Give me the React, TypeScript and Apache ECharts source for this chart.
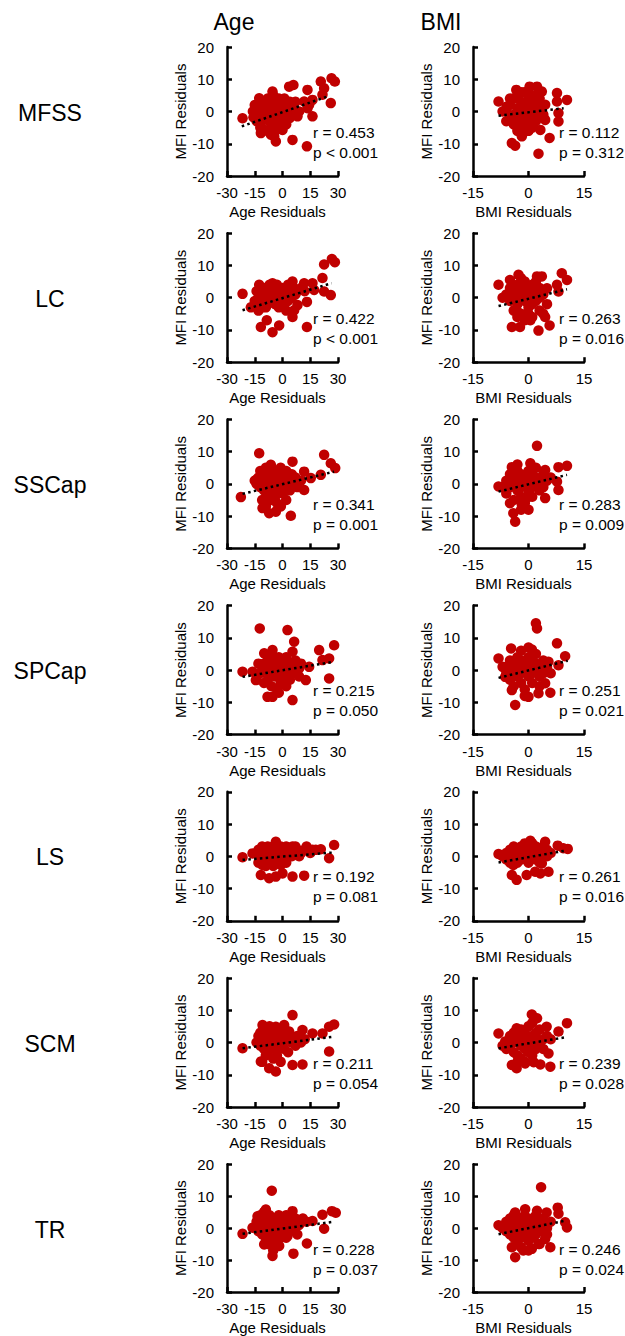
import React, { useEffect, useRef } from "react";
import * as echarts from "echarts";

const FONT = "'Liberation Sans', Arial, Helvetica, sans-serif";
const DOT = "#C00000";

const rowLabels = ["MFSS", "LC", "SSCap", "SPCap", "LS", "SCM", "TR"];
const colTitles = ["Age", "BMI"];
const xNames = ["Age Residuals", "BMI Residuals"];
const yName = "MFI Residuals";
const xRanges = [[-30, 30, 15], [-15, 15, 15]];
const yRange = [-20, 20, 10];

const ageR = ["0.453", "0.422", "0.341", "0.215", "0.192", "0.211", "0.228"];
const ageP = ["< 0.001", "< 0.001", "= 0.001", "= 0.050", "= 0.081", "= 0.054", "= 0.037"];
const bmiR = ["0.112", "0.263", "0.283", "0.251", "0.261", "0.239", "0.246"];
const bmiP = ["= 0.312", "= 0.016", "= 0.009", "= 0.021", "= 0.016", "= 0.028", "= 0.024"];

const ageMFSS = [
  [-21.6, -2.1], [-15.7, -1.8], [-12.6, 4.1], [-5.4, 6.2], [3.6, 7.7], [5.9, 8.2], [13.5, 6.7], [20.7, 9.3], [26.5, 10.3], [28.3, 9.3],
  [22.5, 7.2], [21.6, 5.2], [26.1, 2.6], [16.2, 3.6], [14.4, 2.1], [11.7, 3.1], [13.5, 1.0], [16.2, -1.5], [8.1, -1.5], [5.4, -8.8],
  [13.2, -10.8], [0, -5.7], [-3.6, -9.3], [-4.5, -7.7], [-9.9, -5.7], [-11.7, -6.7], [-6.3, -7.2],
  [-13, 1], [-12, -1], [-11, 2], [-10, 0], [-10, 3], [-9, -2], [-9, 1], [-8, 4], [-8, -1], [-7, 2], [-7, -3], [-6, 0], [-6, 3],
  [-5, -2], [-5, 5], [-4, 1], [-4, -4], [-3, 3], [-3, -1], [-2, 0], [-2, 4], [-1, -3], [-1, 2], [0, 1], [0, -2], [1, 4], [1, -1],
  [2, 2], [2, -4], [3, 0], [4, 3], [4, -2], [5, 1], [6, -1], [7, 3], [-14, -3], [-12, -5], [-8, -6], [-6, -4], [-4, -6], [-11, -3],
  [9, 0], [-16, 0], [-15, 2],
];
const ageLC = [
  [-21.6, 1.2], [-17.1, -3.0], [-11.7, -9.1], [-8.5, -7.0], [-5.4, -10.7], [-1.8, -8.6], [5.4, -6.0], [6.3, -3.9], [8.1, -2.3], [13.2, -1.3],
  [13.2, -9.1], [16.2, 4.5], [11.7, 4.5], [21.6, 6.1], [22.5, 10.3], [26.7, 12.0], [28.3, 11.0], [26.1, 0.8], [22.5, 1.9], [17.1, 2.4],
  [-12.6, 4.0], [-5.4, 4.5], [5.4, 5.0],
  [-15, -1], [-14, 2], [-13, 0], [-12, 3], [-12, -2], [-11, 1], [-10, -1], [-10, 3], [-9, 0], [-9, -3], [-8, 2], [-8, -2], [-7, 1],
  [-7, 4], [-6, -1], [-6, 2], [-5, 0], [-5, 3], [-4, -2], [-4, 1], [-3, 4], [-3, 0], [-2, 2], [-2, -3], [-1, 1], [-1, -1], [0, 3],
  [0, 0], [1, -2], [1, 2], [2, 1], [3, 4], [3, -1], [4, 2], [5, 0], [6, 3], [7, 1], [8, 2], [-13, -4], [-11, -3], [2, -4], [10, 3], [12, 2],
];
const ageSSCap = [
  [-22.5, -4.1], [-12.6, 9.5], [-6.3, 5.9], [5.4, 6.9], [22.5, 9.0], [26.1, 6.4], [28.5, 4.9], [20.7, 2.8], [15.3, 1.8], [11.7, 3.8],
  [11.7, -1.9], [4.5, -9.9], [-10.8, -7.5], [-7.2, -9.1], [-3.6, -8.6], [-0.9, -7.0], [-14.4, 1.2],
  [-14, 0], [-13, 2], [-12, -1], [-12, 4], [-11, 1], [-10, -2], [-10, 3], [-9, 0], [-9, 5], [-8, -3], [-8, 2], [-7, -1], [-7, 4],
  [-6, 0], [-6, -5], [-5, 2], [-5, -2], [-4, 4], [-4, -4], [-3, 1], [-3, -6], [-2, 3], [-2, -2], [-1, 0], [-1, 5], [0, 2], [0, -3],
  [1, -1], [2, 4], [2, -5], [3, 1], [4, -2], [5, 3], [6, 0], [7, 2], [8, -1], [-11, -5], [-9, -7], [10, 1], [-15, 1],
];
const ageSPCap = [
  [-21.6, -0.5], [-16.2, -0.5], [-12.3, 12.9], [2.7, 12.4], [-9.9, 5.2], [-5.4, 6.2], [5.4, 5.7], [6.3, 8.8], [19.8, 6.2], [27.9, 7.7],
  [21.6, 3.1], [25.2, 3.6], [25.2, -2.6], [12.6, -3.1], [5.4, -9.3], [-8.1, -8.3], [-5.4, -8.3], [-14.4, -3.1], [9.0, 0.5], [14.4, 1.0],
  [-13, 2], [-12, -1], [-11, 1], [-10, -4], [-10, 2], [-9, 0], [-8, 3], [-8, -3], [-7, -1], [-7, 1], [-6, 4], [-6, -5], [-5, 0],
  [-5, 2], [-4, -2], [-4, 3], [-3, -6], [-3, 1], [-2, -1], [-2, 4], [-1, 2], [-1, -4], [0, 0], [0, 3], [1, -2], [1, 1], [2, -5],
  [2, 4], [3, 0], [4, 2], [4, -3], [5, 1], [6, -1], [7, 3], [8, 0], [9, -2], [10, 2], [-2, -7], [-14, -3],
];
const ageLS = [
  [-21.6, -0.3], [-16.2, 0.9], [-3.6, 4.5], [27.9, 3.5], [20.7, 2.2], [25.2, -0.6], [16.2, 2.0], [5.4, 3.0], [-11.7, -5.8], [-7.2, -6.8],
  [-3.6, -6.3], [0, -5.3], [5.4, -6.3], [11.7, -6.0], [-10.8, -2.7], [-0.9, -2.7],
  [-14, 1], [-13, 2], [-12, 0], [-11, 3], [-10, 1], [-10, -1], [-9, 2], [-8, 0], [-8, 3], [-7, 1], [-6, 2], [-6, -1], [-5, 3],
  [-5, 0], [-4, 1], [-3, 2], [-3, -2], [-2, 0], [-1, 3], [-1, 1], [0, 2], [0, -1], [1, 0], [2, 3], [3, 1], [4, 2], [5, 0], [6, 1],
  [7, 3], [8, 2], [9, 0], [10, 1], [12, 2], [13, 3], [15, 1], [18, 2], [-13, -2], [-9, -3], [2, -2], [-5, -3],
];
const ageSCM = [
  [-21.6, -1.8], [5.4, 8.5], [27.9, 5.6], [25.2, 4.9], [21.6, 2.8], [25.2, -2.8], [16.2, 2.8], [10.8, 3.9], [3.6, 3.4], [-11.7, -5.9],
  [-7.2, -8.0], [-3.6, -9.0], [5.4, -7.0], [10.8, -6.8], [-10.8, 5.4], [-3.6, 4.9], [0.9, 5.4],
  [-14, 0], [-13, 2], [-12, -1], [-12, 3], [-11, 1], [-10, -2], [-10, 4], [-9, 0], [-9, -4], [-8, 2], [-8, -3], [-7, 1], [-7, 5],
  [-6, -1], [-6, 3], [-5, -5], [-5, 0], [-4, 2], [-4, -2], [-3, 4], [-3, -4], [-2, 1], [-2, -1], [-1, 3], [-1, -6], [0, 0], [0, 2],
  [1, -2], [2, 1], [3, -3], [4, 2], [5, 0], [6, 1], [7, -1], [8, 2], [10, 0], [12, 1], [-11, -6],
];
const ageTR = [
  [-21.6, -1.8], [-5.8, 11.7], [-9.9, -5.1], [-5.4, -8.7], [5.9, -8.0], [13.2, -4.8], [26.7, 5.3], [28.8, 4.8], [21.6, 4.2], [22.5, -0.2],
  [16.2, 2.2], [5.4, 5.3], [-9.0, 5.8], [-13.5, 3.7], [-16.2, 0.1], [-1.8, -5.6], [2.7, -2.5],
  [-14, 2], [-13, -1], [-12, 1], [-12, 4], [-11, -2], [-11, 2], [-10, 0], [-10, 5], [-9, -3], [-9, 3], [-8, 1], [-8, -5], [-7, -1],
  [-7, 4], [-6, 2], [-6, -4], [-5, 0], [-5, -7], [-4, 3], [-4, -2], [-3, 1], [-3, -5], [-2, 4], [-2, -1], [-1, 2], [-1, -3], [0, 0],
  [0, 3], [1, -1], [2, 4], [2, -3], [3, 1], [4, -1], [5, 2], [6, 0], [7, 3], [8, -2], [9, 1], [11, 3], [13, 2],
];

const bmiMFSS = [
  [-8.1, 3.1], [-3.3, 6.7], [0.3, 7.7], [2.3, 7.7], [3.6, 6.2], [7.7, 5.7], [10.4, 3.6], [7.7, 3.1], [8.1, -0.5], [8.1, -3.1],
  [4.5, 2.1], [4.5, -2.6], [3.2, -5.7], [5.7, -8.2], [2.7, -13.1], [-4.5, -9.8], [-3.6, -10.6], [-1.8, -7.7], [0, -5.7], [-5.9, 1.5],
  [-6, 0], [-5, -2], [-5, 2], [-4, 4], [-4, -1], [-4, -4], [-3, 1], [-3, -3], [-3, 5], [-2, 3], [-2, -1], [-2, -5], [-1, 0],
  [-1, 2], [-1, -3], [0, 4], [0, 1], [0, -2], [0, -4], [1, 2], [1, -1], [1, 5], [2, 0], [2, 3], [2, -3], [3, 1], [3, -1], [-1, 6],
  [-7, 0], [-6, -3], [-3, -6], [1, -5], [2, 5], [3, 4], [-5, 4], [-2, 6], [4, -1], [0, -6],
];
const bmiLC = [
  [-8.1, 4.0], [-5.0, 5.5], [-2.7, 7.1], [2.3, 6.6], [3.6, 6.6], [9.0, 7.6], [10.4, 5.5], [7.7, 4.0], [8.1, 1.9], [5.0, 2.9],
  [-4.5, -9.1], [-2.3, -9.1], [0.5, -7.0], [2.7, -10.2], [4.5, -6.0], [5.7, -8.6], [-3.2, -3.9],
  [-6, 1], [-5, -1], [-5, 3], [-4, 0], [-4, 2], [-4, -4], [-3, 1], [-3, -2], [-3, 4], [-2, 0], [-2, 3], [-2, -5], [-1, -1], [-1, 2],
  [-1, 5], [0, 0], [0, 3], [0, -3], [0, -5], [1, 1], [1, -2], [1, 4], [2, 2], [2, -1], [2, 5], [3, 0], [3, 3], [3, -4], [4, 1],
  [-7, 0], [-1, -7], [1, -6], [-3, -6], [5, -2], [4, -5], [-2, 6],
];
const bmiSSCap = [
  [-8.1, -0.8], [2.3, 11.8], [-4.5, 5.2], [0.5, 6.4], [4.5, 4.3], [8.1, 5.2], [10.4, 5.6], [8.1, -1.9], [7.7, 0.7], [4.5, -4.4],
  [-4.1, -9.1], [-3.6, -11.7], [-1.8, -6.5], [-0.5, -4.4],
  [-7, -1], [-6, 1], [-6, -3], [-5, 3], [-5, -1], [-4, 0], [-4, 2], [-4, -5], [-3, 4], [-3, -2], [-3, 1], [-2, -1], [-2, 3], [-2, -4],
  [-1, 0], [-1, 2], [-1, -6], [0, 1], [0, 4], [0, -2], [1, -1], [1, 3], [1, -4], [2, 0], [2, 2], [2, 5], [3, -2], [3, 1], [4, 3],
  [4, -1], [5, 1], [-5, -6], [-2, -8], [0, -8], [6, 2], [-3, 6],
];
const bmiSPCap = [
  [-8.1, 3.6], [2.0, 14.5], [2.3, 12.9], [-4.7, 6.7], [0.9, 6.4], [7.7, 8.3], [9.9, 4.3], [8.1, 1.5], [5.4, 2.6], [4.5, -4.1],
  [5.9, -7.0], [-3.6, -10.8], [0, -8.3], [2.7, -7.2], [-6.3, -2.1], [-4.5, -6.2],
  [-6, 1], [-6, -1], [-5, 3], [-5, -3], [-4, 0], [-4, 2], [-4, -5], [-3, 4], [-3, -2], [-3, 1], [-2, -1], [-2, 3], [-2, -4], [-1, 0],
  [-1, 2], [-1, -6], [0, 1], [0, 4], [0, -2], [1, -1], [1, 3], [1, -4], [2, 0], [2, 2], [2, 5], [3, -2], [3, 1], [4, 3], [4, -1],
  [5, 1], [-7, 1], [-1, -8], [3, -5], [6, -1], [-2, 6], [0, 7],
];
const bmiLS = [
  [-8.1, 0.7], [0.5, 4.8], [4.5, 4.5], [7.9, 3.3], [10.6, 2.3], [9.4, 2.5], [-4.5, -5.8], [-3.2, -7.3], [-0.5, -5.8], [1.8, -4.8],
  [3.2, -5.3], [5.4, -4.8], [-4.1, -2.7], [3.6, -2.2],
  [-7, 0], [-6, 1], [-6, -1], [-5, 2], [-5, 0], [-4, 1], [-4, 3], [-4, -1], [-3, 2], [-3, 0], [-3, -2], [-2, 1], [-2, 3], [-2, -1],
  [-1, 2], [-1, 0], [-1, 4], [0, 1], [0, 3], [0, -1], [1, 2], [1, 0], [1, 4], [2, 1], [2, 3], [2, -1], [3, 2], [3, 0], [4, 1],
  [4, 3], [5, 2], [5, 0], [6, 1], [-5, -2], [0, -2], [3, -2],
];
const bmiSCM = [
  [-8.1, 2.8], [0.9, 8.7], [4.9, 4.9], [10.4, 6.0], [8.1, 3.4], [-4.5, -7.0], [-3.2, -8.0], [-0.9, -6.5], [1.4, -6.1], [3.2, -6.8],
  [5.9, -7.5], [5.4, -3.4], [-6.3, 0.3], [-3.2, 4.4], [2.3, 7.5],
  [-6, 0], [-6, -2], [-5, 2], [-5, -1], [-4, 1], [-4, -3], [-4, 3], [-3, 0], [-3, -4], [-3, 2], [-2, -1], [-2, 4], [-2, -5], [-1, 1],
  [-1, -2], [-1, 3], [0, 0], [0, -3], [0, 5], [1, 2], [1, -1], [1, -4], [2, 1], [2, 3], [2, -2], [3, 0], [3, 4], [4, 1], [4, -2],
  [5, 2], [-7, -1], [-1, -6], [1, 6], [6, 1], [-3, -6],
];
const bmiTR = [
  [-8.1, 0.9], [3.4, 12.8], [7.9, 6.4], [8.1, 4.5], [10.4, 0.2], [9.9, 1.8], [4.9, 4.9], [2.3, 5.4], [-0.9, 5.9], [-3.6, 4.9],
  [-4.5, -6.0], [-3.6, -9.1], [-1.4, -7.0], [0.9, -6.5], [2.7, -5.0], [5.9, -6.0], [4.5, -3.4],
  [-7, 0], [-6, 2], [-6, -1], [-5, 1], [-5, 3], [-5, -2], [-4, 0], [-4, 4], [-4, -3], [-3, 2], [-3, -1], [-3, -5], [-2, 1], [-2, 3],
  [-2, -3], [-1, 0], [-1, 4], [-1, -2], [0, 2], [0, -1], [0, -4], [1, 1], [1, 3], [1, -3], [2, 0], [2, 4], [2, -2], [3, 2], [3, -1],
  [4, 1], [4, 3], [5, 0], [5, -2], [6, 2], [-2, -6], [0, -7], [3, -5],
];

const ageTrend = [
  [[-22, -4.6], [25, 4.8]],
  [[-21.6, -3.9], [26.5, 4.5]],
  [[-21.6, -3.1], [27.9, 3.8]],
  [[-21.6, -2.1], [27.9, 2.6]],
  [[-21.6, -1.1], [27.9, 1.2]],
  [[-21.6, -1.8], [27.9, 1.8]],
  [[-21.6, -1.8], [27.9, 2.0]],
];
const bmiTrend = [
  [[-8.1, -1.3], [9.5, 1.0]],
  [[-8.1, -2.6], [10.4, 2.6]],
  [[-8.1, -2.4], [10.4, 2.8]],
  [[-8.1, -2.4], [10.6, 2.9]],
  [[-8.1, -1.9], [9.7, 1.7]],
  [[-8.1, -1.8], [9.9, 1.6]],
  [[-8.1, -1.9], [9.9, 2.3]],
];

const ageData = [ageMFSS, ageLC, ageSSCap, ageSPCap, ageLS, ageSCM, ageTR];
const bmiData = [bmiMFSS, bmiLC, bmiSSCap, bmiSPCap, bmiLS, bmiSCM, bmiTR];

function buildOption() {
  const ROW0 = 47;
  const ROWSTEP = 186.2;
  const H = 129;
  const W = 111;
  const LEFTS = [227, 473];
  const grid: any[] = [];
  const xAxis: any[] = [];
  const yAxis: any[] = [];
  const series: any[] = [];
  const graphic: any[] = [];
  const axisLine = { lineStyle: { color: "#000", width: 2.5 } };
  const axisTick = { inside: true, length: 5, lineStyle: { color: "#000", width: 2.5 } };

  colTitles.forEach((t, c) => {
    graphic.push({
      type: "text",
      x: c === 0 ? 234 : 441,
      y: 22,
      style: { text: t, font: `23px ${FONT}`, fill: "#000", align: "center", verticalAlign: "middle" },
    });
  });

  for (let r = 0; r < rowLabels.length; r++) {
    const top = ROW0 + r * ROWSTEP;
    graphic.push({
      type: "text",
      x: 50,
      y: top + H / 2 + 1,
      style: { text: rowLabels[r], font: `23px ${FONT}`, fill: "#000", align: "center", verticalAlign: "middle" },
    });
    for (let c = 0; c < 2; c++) {
      const idx = r * 2 + c;
      const left = LEFTS[c];
      grid.push({ left, top, width: W, height: H, containLabel: false });
      const [xmin, xmax, xint] = xRanges[c];
      xAxis.push({
        gridIndex: idx,
        type: "value",
        min: xmin,
        max: xmax,
        interval: xint,
        name: xNames[c],
        nameLocation: "middle",
        nameGap: 28,
        nameTextStyle: { fontFamily: FONT, fontSize: 15, color: "#000", padding: [0, 10, 0, 0] },
        axisLine: { ...axisLine, onZero: false },
        axisTick,
        axisLabel: { fontFamily: FONT, fontSize: 15, color: "#000", margin: 9 },
        splitLine: { show: false },
      });
      yAxis.push({
        gridIndex: idx,
        type: "value",
        min: yRange[0],
        max: yRange[1],
        interval: yRange[2],
        name: yName,
        nameLocation: "middle",
        nameGap: 36,
        nameTextStyle: { fontFamily: FONT, fontSize: 15, color: "#000" },
        axisLine: { ...axisLine, onZero: false },
        axisTick,
        axisLabel: { fontFamily: FONT, fontSize: 15, color: "#000", margin: 13 },
        splitLine: { show: false },
      });
      series.push({
        type: "scatter",
        xAxisIndex: idx,
        yAxisIndex: idx,
        data: c === 0 ? ageData[r] : bmiData[r],
        symbol: "circle",
        symbolSize: 10.5,
        itemStyle: { color: DOT, opacity: 1 },
        z: 2,
      });
      series.push({
        type: "line",
        xAxisIndex: idx,
        yAxisIndex: idx,
        data: c === 0 ? ageTrend[r] : bmiTrend[r],
        symbol: "none",
        lineStyle: { color: "#000", width: 2.5, type: [2.5, 3.3], cap: "butt" },
        z: 3,
      });
      const rv = c === 0 ? ageR[r] : bmiR[r];
      const pv = c === 0 ? ageP[r] : bmiP[r];
      graphic.push({
        type: "text",
        x: left + 86,
        y: top + 85,
        z: 10,
        style: { text: `r = ${rv}`, font: `15.5px ${FONT}`, fill: "#000", align: "left", verticalAlign: "middle" },
      });
      graphic.push({
        type: "text",
        x: left + 86,
        y: top + 105,
        z: 10,
        style: { text: `p ${pv}`, font: `15.5px ${FONT}`, fill: "#000", align: "left", verticalAlign: "middle" },
      });
    }
  }

  return {
    animation: false,
    backgroundColor: "#fff",
    grid,
    xAxis,
    yAxis,
    series,
    graphic,
  };
}

export default function App() {
  const ref = useRef<HTMLDivElement>(null);
  useEffect(() => {
    const chart = echarts.init(ref.current!, null, { renderer: "svg" });
    chart.setOption(buildOption() as any);
    return () => chart.dispose();
  }, []);
  return (
    <div
      ref={ref}
      style={{ position: "absolute", left: 0, top: 0, width: 625, height: 1336 }}
    />
  );
}
